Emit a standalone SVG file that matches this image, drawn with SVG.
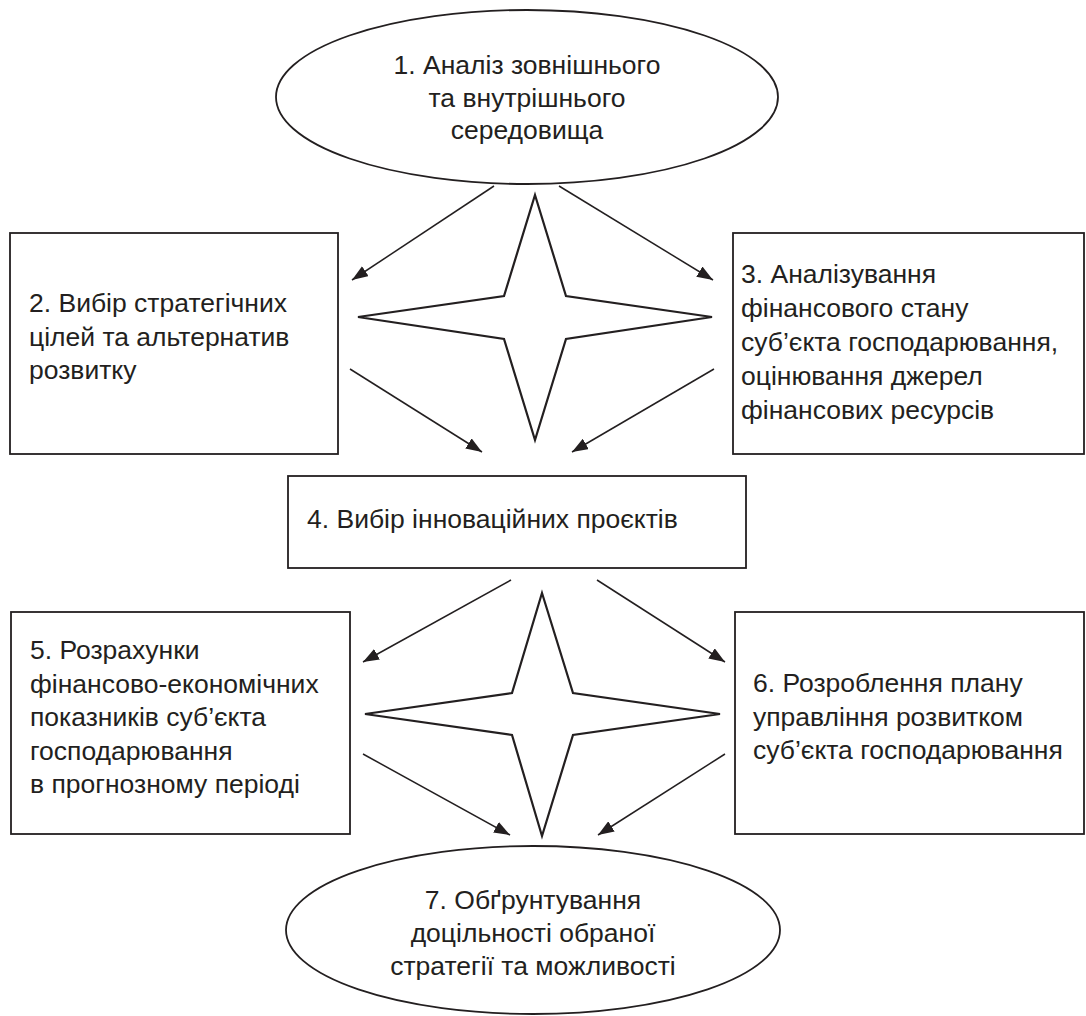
<svg xmlns="http://www.w3.org/2000/svg" width="1086" height="1016" viewBox="0 0 1086 1016">
<style>
.shape{fill:#fff;stroke:#231f20;stroke-width:1.8}
.star{fill:#fff;stroke:#231f20;stroke-width:2.2;stroke-linejoin:miter}
.t{font-family:"Liberation Sans",Arial,sans-serif;font-size:26.5px;fill:#231f20}
.c{text-anchor:middle}
.arr{stroke:#231f20;stroke-width:1.5;fill:none;marker-end:url(#ah)}
</style>
<defs>
<marker id="ah" markerUnits="userSpaceOnUse" viewBox="0 0 16 12" refX="16" refY="6" markerWidth="16" markerHeight="12" orient="auto">
<path d="M0,0 L16,6 L0,12 z" fill="#231f20"/>
</marker>
</defs>
<rect width="1086" height="1016" fill="#fff"/>
<g id="node1">
<ellipse class="shape" cx="527" cy="97" rx="251" ry="87"/>
<text class="t c" x="527"><tspan x="527" y="74">1. Аналіз зовнішнього</tspan><tspan x="527" y="106.5">та внутрішнього</tspan><tspan x="527" y="139">середовища</tspan></text>
</g>
<g id="node2">
<rect class="shape" x="10" y="233" width="328" height="221"/>
<text class="t"><tspan x="29" y="312">2. Вибір стратегічних</tspan><tspan x="29" y="345.5">цілей та альтернатив</tspan><tspan x="29" y="379">розвитку</tspan></text>
</g>
<g id="node3">
<rect class="shape" x="733" y="233" width="351" height="221"/>
<text class="t"><tspan x="741" y="283">3. Аналізування</tspan><tspan x="741" y="317">фінансового стану</tspan><tspan x="741" y="351">суб’єкта господарювання,</tspan><tspan x="741" y="385">оцінювання джерел</tspan><tspan x="741" y="419">фінансових ресурсів</tspan></text>
</g>
<g id="star1">
<polygon class="star" points="535,195 566,296 712,317 566,339 535,440 504,339 358,317 504,296"/>
</g>
<g id="node4">
<rect class="shape" x="288" y="476" width="458" height="92"/>
<text class="t"><tspan x="307" y="528">4. Вибір інноваційних проєктів</tspan></text>
</g>
<g id="node5">
<rect class="shape" x="11" y="612" width="339" height="222"/>
<text class="t"><tspan x="30" y="659">5. Розрахунки</tspan><tspan x="30" y="692.5">фінансово-економічних</tspan><tspan x="30" y="726">показників суб’єкта</tspan><tspan x="30" y="759.5">господарювання</tspan><tspan x="30" y="793">в прогнозному періоді</tspan></text>
</g>
<g id="node6">
<rect class="shape" x="735" y="612" width="349" height="222"/>
<text class="t"><tspan x="753" y="692">6. Розроблення плану</tspan><tspan x="753" y="725.5">управління розвитком</tspan><tspan x="753" y="759">суб’єкта господарювання</tspan></text>
</g>
<g id="star2">
<polygon class="star" points="542,593 573,693 720,714 573,735 542,836 512,735 365,714 512,693"/>
</g>
<g id="node7">
<ellipse class="shape" cx="533" cy="930" rx="247" ry="84"/>
<text class="t c"><tspan x="533" y="909">7. Обґрунтування</tspan><tspan x="533" y="942">доцільності обраної</tspan><tspan x="533" y="975">стратегії та можливості</tspan></text>
</g>
<g id="connectors">
<line class="arr" x1="494" y1="186" x2="352" y2="280"/>
<line class="arr" x1="559" y1="186" x2="713" y2="280"/>
<line class="arr" x1="350" y1="369" x2="482" y2="452"/>
<line class="arr" x1="714" y1="369" x2="572" y2="452"/>
<line class="arr" x1="511" y1="580" x2="363" y2="662"/>
<line class="arr" x1="597" y1="580" x2="725" y2="662"/>
<line class="arr" x1="363" y1="754" x2="510" y2="835"/>
<line class="arr" x1="725" y1="754" x2="598" y2="835"/>
</g>
</svg>
